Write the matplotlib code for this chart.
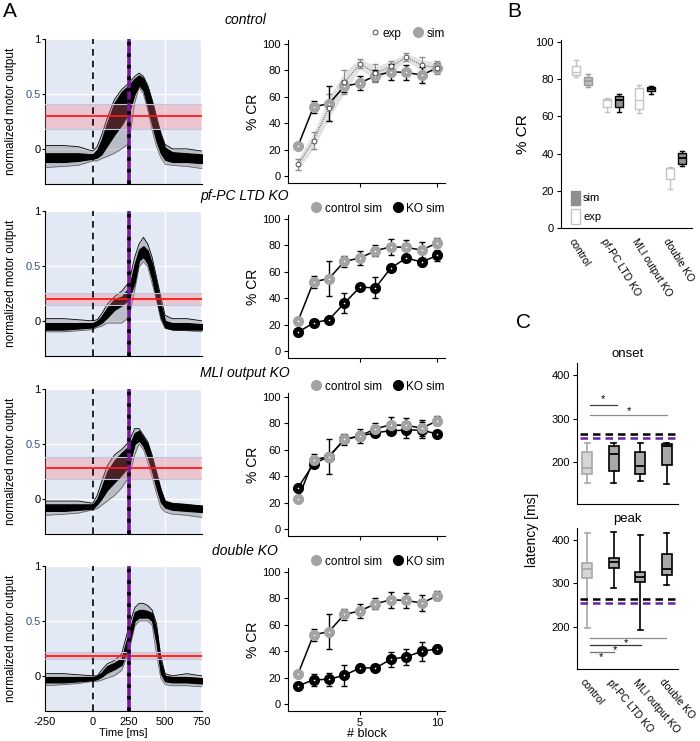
import matplotlib
matplotlib.use("Agg")
import matplotlib.pyplot as plt
from matplotlib.lines import Line2D
from matplotlib.patches import Patch

plt.rcParams['font.family'] = ['Liberation Sans', 'DejaVu Sans']
plt.rcParams['font.size'] = 8

# ---------------- data ----------------
# motor output bundles: time grid [ms] and envelopes (outer = all trials, core = dense part)
t_ms = [-330, -200, -100, 0, 30, 60, 100, 150, 200, 250, 290, 320, 350, 380, 410, 440, 470, 500, 550, 650, 755]

ctrl_out_lo = [-0.17, -0.16, -0.15, -0.11, -0.11, -0.09, -0.07, -0.04, 0.00, 0.05, 0.42, 0.56, 0.50, 0.35, 0.17, 0.02, -0.08, -0.14, -0.15, -0.16, -0.18]
ctrl_out_hi = [0.03, 0.03, 0.02, -0.02, 0.02, 0.12, 0.28, 0.45, 0.54, 0.60, 0.66, 0.69, 0.66, 0.58, 0.45, 0.30, 0.15, 0.04, 0.00, 0.00, -0.02]
ctrl_core_lo = [-0.12, -0.12, -0.11, -0.09, -0.08, -0.05, 0.03, 0.13, 0.22, 0.33, 0.50, 0.58, 0.53, 0.38, 0.22, 0.07, -0.04, -0.10, -0.12, -0.12, -0.13]
ctrl_core_hi = [-0.04, -0.04, -0.04, -0.05, -0.01, 0.08, 0.24, 0.42, 0.52, 0.58, 0.64, 0.67, 0.64, 0.55, 0.42, 0.26, 0.12, 0.01, -0.03, -0.04, -0.05]

pf_out_lo = [-0.10, -0.10, -0.09, -0.08, -0.06, -0.05, -0.02, -0.02, -0.02, 0.03, 0.28, 0.49, 0.54, 0.49, 0.34, 0.19, 0.01, -0.07, -0.08, -0.09, -0.10]
pf_out_hi = [0.02, 0.02, 0.01, 0.00, 0.01, 0.06, 0.15, 0.22, 0.27, 0.35, 0.58, 0.70, 0.76, 0.70, 0.58, 0.40, 0.22, 0.05, 0.02, 0.02, 0.00]
pf_core_lo = [-0.08, -0.08, -0.07, -0.06, -0.04, -0.02, 0.03, 0.10, 0.14, 0.20, 0.35, 0.55, 0.58, 0.52, 0.38, 0.20, 0.03, -0.06, -0.08, -0.08, -0.08]
pf_core_hi = [-0.02, -0.02, -0.02, -0.02, 0.00, 0.04, 0.12, 0.20, 0.22, 0.30, 0.52, 0.65, 0.68, 0.64, 0.52, 0.35, 0.15, 0.00, -0.02, -0.02, -0.03]

mli_out_lo = [-0.15, -0.14, -0.13, -0.10, -0.09, -0.06, -0.02, 0.03, 0.10, 0.20, 0.40, 0.50, 0.45, 0.33, 0.20, 0.05, -0.08, -0.12, -0.14, -0.15, -0.17]
mli_out_hi = [-0.02, -0.02, -0.02, -0.04, 0.03, 0.15, 0.30, 0.40, 0.45, 0.52, 0.64, 0.64, 0.58, 0.52, 0.40, 0.25, 0.10, -0.02, -0.04, -0.05, -0.07]
mli_core_lo = [-0.11, -0.11, -0.10, -0.09, -0.05, 0.00, 0.08, 0.15, 0.22, 0.30, 0.50, 0.53, 0.48, 0.38, 0.25, 0.10, -0.03, -0.08, -0.10, -0.11, -0.12]
mli_core_hi = [-0.05, -0.05, -0.05, -0.05, 0.00, 0.10, 0.25, 0.35, 0.42, 0.48, 0.60, 0.62, 0.56, 0.50, 0.36, 0.22, 0.07, -0.02, -0.04, -0.05, -0.06]

dko_out_lo = [-0.09, -0.08, -0.07, -0.05, -0.05, -0.04, -0.02, 0.00, 0.05, 0.22, 0.45, 0.50, 0.50, 0.50, 0.46, 0.20, -0.02, -0.08, -0.09, -0.09, -0.10]
dko_out_hi = [0.02, 0.02, 0.01, 0.00, 0.00, 0.05, 0.11, 0.14, 0.20, 0.45, 0.62, 0.66, 0.66, 0.64, 0.60, 0.48, 0.18, 0.02, 0.00, 0.02, 0.00]
dko_core_lo = [-0.06, -0.06, -0.05, -0.04, -0.03, -0.01, 0.03, 0.06, 0.10, 0.28, 0.50, 0.53, 0.53, 0.53, 0.50, 0.30, 0.02, -0.05, -0.06, -0.06, -0.07]
dko_core_hi = [-0.01, -0.01, -0.01, -0.01, 0.00, 0.03, 0.09, 0.12, 0.16, 0.40, 0.58, 0.60, 0.60, 0.59, 0.57, 0.42, 0.12, 0.00, -0.01, -0.01, -0.02]

thresholds = [0.295, 0.196, 0.277, 0.18]
thr_band_lo = [0.18, 0.145, 0.18, 0.15]
thr_band_hi = [0.41, 0.25, 0.38, 0.22]
cs_onset = 0
us_onset = 250

# learning curves (% CR per block)
blocks = [1, 2, 3, 4, 5, 6, 7, 8, 9, 10]
ctrl_exp = [9, 27, 52, 71, 85, 78, 83, 90, 84, 82]
ctrl_exp_err = [4, 6.5, 10, 9, 3.5, 7, 4.5, 3, 6.5, 5]
ctrl_exp_band = [4, 6, 8, 8, 4, 5, 4, 3, 4, 4]
ctrl_sim = [23, 52.5, 55, 68, 70.5, 76, 79, 78.5, 76.5, 82]
ctrl_sim_err = [1, 4.5, 13.5, 4, 5.5, 4, 6, 5.5, 6, 3.5]
pf_ko = [14.5, 21.5, 24, 36.5, 48.5, 48, 63, 70.5, 67.5, 72.5]
pf_ko_err = [1.5, 1, 1.5, 7.5, 2, 8, 1.5, 2, 3, 4]
mli_ko = [31.5, 49.5, 55, 68, 70.5, 73, 74.5, 75, 75, 72]
mli_ko_err = [1, 1, 1, 1, 1.5, 2, 2, 6, 6, 1]
dko = [14, 18.5, 19, 22, 27.5, 27.5, 34, 36, 40, 42]
dko_err = [1, 4.5, 5, 8, 1, 1, 5.5, 6, 7, 3]

conditions = ['control', 'pf-PC LTD KO', 'MLI output KO', 'double KO']

# panel B: % CR boxes (whisker low, q1, median, q3, whisker high)
b_exp_lo = [81, 62.5, 62, 21]
b_exp_q1 = [82, 65, 64, 26.5]
b_exp_med = [84, 68.5, 69, 32]
b_exp_q3 = [87, 69.5, 75, 32.5]
b_exp_hi = [90, 70, 77, 33]
b_sim_lo = [76, 62.5, 72, 33.5]
b_sim_q1 = [77, 65, 73.5, 34.5]
b_sim_med = [79, 68.5, 74.5, 37.5]
b_sim_q3 = [81, 71, 76, 40.5]
b_sim_hi = [82.5, 72, 76.5, 41.5]

# panel C: latencies [ms]
onset_lo = [152, 152, 156, 150]
onset_q1 = [171, 180, 173, 194]
onset_med = [186, 219, 190, 236]
onset_q3 = [223, 237, 224, 241]
onset_hi = [243, 243, 243, 243]
peak_lo = [198, 289, 193, 295]
peak_q1 = [312, 336, 304, 320]
peak_med = [333, 348, 315, 333]
peak_q3 = [346, 358, 325, 367]
peak_hi = [415, 418, 411, 416]
ref_black = 265
ref_purple = 255

# ---------------- figure ----------------
W, H = 700, 741
fig = plt.figure(figsize=(7, 7.41), dpi=100)


def px_axes(l, t, r, b):
    return fig.add_axes([l / W, 1 - b / H, (r - l) / W, (b - t) / H])


def stats(lo, q1, med, q3, hi):
    return [dict(whislo=a, q1=b, med=c, q3=d, whishi=e, fliers=[])
            for a, b, c, d, e in zip(lo, q1, med, q3, hi)]


bundles = [
    (ctrl_out_lo, ctrl_out_hi, ctrl_core_lo, ctrl_core_hi),
    (pf_out_lo, pf_out_hi, pf_core_lo, pf_core_hi),
    (mli_out_lo, mli_out_hi, mli_core_lo, mli_core_hi),
    (dko_out_lo, dko_out_hi, dko_core_lo, dko_core_hi),
]
trace_tops = [39, 211, 389, 566]
lc_rows = [(40, 183), (215, 358), (393, 536), (568, 711)]
title_y = [20, 196, 373, 551]

for i, (olo, ohi, clo, chi) in enumerate(bundles):
    ax = px_axes(45, trace_tops[i], 202, trace_tops[i] + 145)
    ax.set_facecolor('#e3e9f4')
    ax.set_xlim(-330, 755)
    ax.set_ylim(-0.32, 1.0)
    ax.set_xticks([-330, 0, 250, 500, 750])
    ax.set_yticks([0, 0.5, 1])
    ax.set_yticklabels(['0', '0.5', '1'])
    ax.get_yticklabels()[1].set_color('#3a4f8a')
    ax.grid(color='white', lw=0.9, zorder=0)
    ax.set_axisbelow(True)
    for s in ['top', 'right']:
        ax.spines[s].set_visible(False)
    ax.tick_params(axis='y', length=2, pad=1)
    if i == 3:
        ax.set_xticklabels(['-250', '0', '250', '500', '750'])
        ax.tick_params(axis='x', length=0, pad=4)
        ax.set_xlabel('Time [ms]', labelpad=1)
    else:
        ax.tick_params(axis='x', length=0, labelbottom=False)
    ax.set_ylabel('normalized motor output', fontsize=8.5, labelpad=6)

    ax.fill_between(t_ms, olo, ohi, color='0.3', alpha=0.28, lw=0, zorder=2)
    ax.plot(t_ms, olo, color='0.35', lw=0.5, zorder=2)
    ax.plot(t_ms, ohi, color='black', lw=0.6, zorder=2)
    ax.fill_between(t_ms, clo, chi, color='black', lw=0.8, edgecolor='black', zorder=3)

    ax.axhspan(thr_band_lo[i], thr_band_hi[i], color='#ff6f7d', alpha=0.3, lw=0, zorder=4)
    ax.axhline(thr_band_lo[i], color='#b8c8e0', lw=0.8, zorder=4)
    ax.axhline(thr_band_hi[i], color='#b8c8e0', lw=0.8, zorder=4)
    ax.axhline(thresholds[i], color='#ff1a1a', lw=1.3, zorder=5)

    ax.axvline(cs_onset, color='black', lw=1.2, ls=(0, (4, 3)), zorder=6)
    ax.axvline(us_onset, color='#7a1a9a', lw=2.6, zorder=6)
    ax.axvline(us_onset, color='black', lw=2.6, ls=(0, (1, 2.2)), zorder=6)

    fig.text(245 / W, 1 - title_y[i] / H, conditions[i], style='italic', fontsize=10,
             ha='center', va='center')

# learning curves
grey = '#a3a3a3'


def sim_curve(ax, y, err, face, z):
    ax.errorbar(blocks, y, yerr=err, fmt='none', ecolor='black', elinewidth=1,
                capsize=2.5, capthick=1, zorder=z)
    ax.plot(blocks, y, '-', color='black', lw=1.1, zorder=z)
    ax.plot(blocks, y, 'o', ms=7, mfc=face, mec=face, zorder=z + 0.1)
    ax.plot(blocks, y, 'o', ms=1.2, mfc='white', mew=0, zorder=z + 0.2)


ko_data = [None, (pf_ko, pf_ko_err), (mli_ko, mli_ko_err), (dko, dko_err)]
for i, (t, b) in enumerate(lc_rows):
    ax = px_axes(288, t, 445, b)
    ax.set_xlim(0.35, 10.5)
    ax.set_ylim(-5, 103)
    ax.set_yticks([0, 20, 40, 60, 80, 100])
    ax.set_xticks([5, 10])
    for s in ['top', 'right']:
        ax.spines[s].set_visible(False)
    ax.tick_params(length=3, pad=2)
    ax.set_ylabel('% CR', fontsize=10, labelpad=2)
    if i == 3:
        ax.set_xlabel('# block', fontsize=9, labelpad=0)
    else:
        ax.tick_params(axis='x', labelbottom=False)

    if i == 0:
        lo = [v - e for v, e in zip(ctrl_exp, ctrl_exp_band)]
        hi = [v + e for v, e in zip(ctrl_exp, ctrl_exp_band)]
        ax.fill_between(blocks, lo, hi, color='#e2e2e2', lw=0, zorder=1)
        ax.errorbar(blocks, ctrl_exp, yerr=ctrl_exp_err, fmt='none', ecolor='0.55',
                    elinewidth=0.8, capsize=2, zorder=2)
        ax.plot(blocks, ctrl_exp, ls=(0, (1, 1)), color='0.45', lw=0.8, zorder=2)
        sim_curve(ax, ctrl_sim, ctrl_sim_err, grey, 3)
        ax.plot(blocks, ctrl_exp, 'o', ms=3.5, mfc='white', mec='0.2', mew=0.6, zorder=4)
        handles = [Line2D([], [], marker='o', ls='none', ms=3.5, mfc='white', mec='0.2', mew=0.6),
                   Line2D([], [], marker='o', ls='none', ms=7, mfc=grey, mec=grey)]
        labels = ['exp', 'sim']
    else:
        y, e = ko_data[i]
        sim_curve(ax, y, e, 'black', 2)
        sim_curve(ax, ctrl_sim, ctrl_sim_err, grey, 3)
        handles = [Line2D([], [], marker='o', ls='none', ms=7, mfc=grey, mec=grey),
                   Line2D([], [], marker='o', ls='none', ms=7, mfc='black', mec='black')]
        labels = ['control sim', 'KO sim']
    ax.legend(handles, labels, ncol=2, loc='lower right', bbox_to_anchor=(1.03, 0.97),
              frameon=False, handletextpad=0.1, columnspacing=0.8, borderaxespad=0,
              fontsize=8.5, handlelength=1.2)

# panel B
axb = px_axes(561, 40, 692, 228)
axb.set_xlim(-0.67, 3.51)
axb.set_ylim(0, 101)
axb.set_yticks([0, 20, 40, 60, 80, 100])
for s in ['top', 'right']:
    axb.spines[s].set_visible(False)
axb.tick_params(length=3, pad=2)
axb.tick_params(axis='x', length=0)
axb.set_ylabel('% CR', fontsize=11, labelpad=4)
gpos = [0, 1, 2, 3]
axb.bxp(stats(b_exp_lo, b_exp_q1, b_exp_med, b_exp_q3, b_exp_hi),
        positions=[g - 0.19 for g in gpos], widths=0.26, patch_artist=True, showfliers=False,
        boxprops=dict(facecolor='white', edgecolor='#c4c4c4', lw=1),
        medianprops=dict(color='#c4c4c4', lw=1), whiskerprops=dict(color='#c4c4c4', lw=1),
        capprops=dict(color='#c4c4c4', lw=1), manage_ticks=False)
axb.bxp(stats(b_sim_lo, b_sim_q1, b_sim_med, b_sim_q3, b_sim_hi)[:1],
        positions=[0.19], widths=0.26, patch_artist=True, showfliers=False,
        boxprops=dict(facecolor='#bdbdbd', edgecolor='#9a9a9a', lw=1),
        medianprops=dict(color='#9a9a9a', lw=1.3), whiskerprops=dict(color='#9a9a9a', lw=1),
        capprops=dict(color='#9a9a9a', lw=1), manage_ticks=False)
axb.bxp(stats(b_sim_lo, b_sim_q1, b_sim_med, b_sim_q3, b_sim_hi)[1:],
        positions=[g + 0.19 for g in gpos[1:]], widths=0.26, patch_artist=True, showfliers=False,
        boxprops=dict(facecolor='#8e8e8e', edgecolor='black', lw=1),
        medianprops=dict(color='black', lw=1.3), whiskerprops=dict(color='black', lw=1),
        capprops=dict(color='black', lw=1), manage_ticks=False)
axb.set_xticks([g - 0.2 for g in gpos])
axb.set_xticklabels(conditions, rotation=-58, ha='left', va='top', rotation_mode='anchor',
                    fontsize=7.5)
axb.tick_params(axis='x', pad=6)
axb.legend([Patch(facecolor='#8e8e8e', edgecolor='#8e8e8e'),
            Patch(facecolor='white', edgecolor='#c4c4c4')], ['sim', 'exp'],
           loc='lower left', bbox_to_anchor=(0.0, -0.03), frameon=False, handlelength=0.8,
           handleheight=1.6, handletextpad=0.3, labelspacing=0.4, fontsize=8)

# panel C
cpos = [0, 1, 2, 3]


def latency_boxes(ax, lo, q1, med, q3, hi):
    st = stats(lo, q1, med, q3, hi)
    ax.bxp(st[:1], positions=[0], widths=0.38, patch_artist=True, showfliers=False,
           boxprops=dict(facecolor='#d6d6d6', edgecolor='#a8a8a8', lw=1.2),
           medianprops=dict(color='#a8a8a8', lw=1.3), whiskerprops=dict(color='#a8a8a8', lw=1.2),
           capprops=dict(color='#a8a8a8', lw=1.2), manage_ticks=False)
    ax.bxp(st[1:], positions=cpos[1:], widths=0.38, patch_artist=True, showfliers=False,
           boxprops=dict(facecolor='#a8a8a8', edgecolor='black', lw=1.2),
           medianprops=dict(color='black', lw=1.3), whiskerprops=dict(color='black', lw=1.2),
           capprops=dict(color='black', lw=1.2), manage_ticks=False)
    ax.axhline(ref_black, xmin=0.03, xmax=0.99, color='black', lw=1.8, ls=(0, (3, 2)))
    ax.axhline(ref_purple, xmin=0.03, xmax=0.99, color='#6a1fa0', lw=1.8, ls=(0, (3, 2)))
    ax.set_xlim(-0.38, 3.43)
    ax.set_yticks([200, 300, 400])
    for s in ['top', 'right']:
        ax.spines[s].set_visible(False)
    ax.tick_params(length=3, pad=2)


ax_on = px_axes(577, 363, 678, 504)
latency_boxes(ax_on, onset_lo, onset_q1, onset_med, onset_q3, onset_hi)
ax_on.set_ylim(103, 428)
ax_on.set_xticks([])
ax_on.set_title('onset', fontsize=9.5, pad=4)
ax_on.plot([0.11, 1.13], [331, 331], color='0.25', lw=0.9)
ax_on.text(0.6, 345, '*', ha='center', va='center', fontsize=8)
ax_on.plot([0.11, 3.02], [307, 307], color='0.55', lw=0.9)
ax_on.text(1.58, 318, '*', ha='center', va='center', fontsize=8)

ax_pk = px_axes(577, 528, 678, 669)
latency_boxes(ax_pk, peak_lo, peak_q1, peak_med, peak_q3, peak_hi)
ax_pk.set_ylim(103, 427)
ax_pk.set_title('peak', fontsize=9.5, pad=4)
ax_pk.plot([0.11, 2.98], [175, 175], color='0.55', lw=0.9)
ax_pk.text(1.47, 163, '*', ha='center', va='center', fontsize=8)
ax_pk.plot([0.11, 2.04], [158, 158], color='0.2', lw=0.9)
ax_pk.text(1.06, 146, '*', ha='center', va='center', fontsize=8)
ax_pk.plot([0.11, 1.02], [141, 141], color='0.45', lw=0.9)
ax_pk.text(0.53, 130, '*', ha='center', va='center', fontsize=8)
ax_pk.set_xticks([c - 0.05 for c in cpos])
ax_pk.set_xticklabels(conditions, rotation=-50, ha='left', va='top', rotation_mode='anchor',
                      fontsize=7.5)
ax_pk.tick_params(axis='x', length=0, pad=6)

fig.text(532 / W, 1 - 530 / H, 'latency [ms]', rotation=90, ha='center', va='center', fontsize=10)

# panel letters
fig.text(3 / W, 1 - 2 / H, 'A', fontsize=15, va='top', ha='left')
fig.text(507 / W, 1 - 2 / H, 'B', fontsize=15, va='top', ha='left')
fig.text(516 / W, 1 - 313 / H, 'C', fontsize=15, va='top', ha='left')

fig.savefig('out.png', dpi=100)
